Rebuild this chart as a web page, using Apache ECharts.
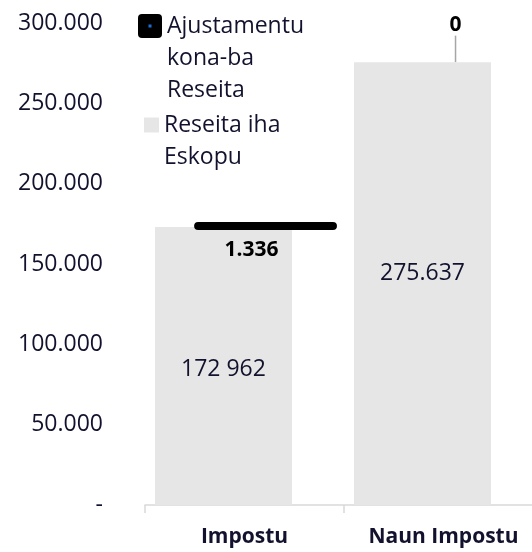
<!DOCTYPE html>
<html>
<head>
<meta charset="utf-8">
<script src="https://cdn.jsdelivr.net/npm/echarts@6/dist/echarts.min.js"></script>
<style>
html,body{margin:0;padding:0;background:#fff}
#main{width:532px;height:552px}
</style>
</head>
<body>
<div id="main"></div>
<script>
var categories = ['Impostu', 'Naun Impostu'];
var reseitaValues = [172962, 275637];
var reseitaLabels = ['172 962', '275.637'];
var ajustValues = [1336, 0];
var ajustLabels = ['1.336', '0'];

var txt = '#12122e';
var font = 'Open Sans';

var iconSvg = '<svg xmlns="http://www.w3.org/2000/svg" width="24" height="24">' +
	'<rect width="24" height="24" rx="4" ry="4" fill="#000"/>' +
	'<rect x="10.5" y="10.5" width="3" height="3" fill="#1f6fd1"/></svg>';
var ajustIcon = 'image://data:image/svg+xml;charset=utf-8,' + encodeURIComponent(iconSvg);

var myChart = echarts.init(document.getElementById('main'));

var option = {
	animation: false,
	textStyle: { fontFamily: font },
	grid: { left: 145, top: 23, width: 398, height: 482, containLabel: false, outerBoundsMode: 'none' },
	legend: [
		{
			left: 138, top: -54, padding: 0,
			itemWidth: 24, itemHeight: 24,
			data: [{ name: 'Ajustamentu kona-ba Reseita', icon: ajustIcon }],
			// leading blank lines keep the first line level with the icon
			formatter: function() { return '\n\nAjustamentu\nkona-ba\nReseita'; },
			textStyle: { fontFamily: font, fontSize: 23, color: txt, lineHeight: 32 }
		},
		{
			left: 144, top: 77, padding: 0,
			itemWidth: 15, itemHeight: 15,
			data: [{ name: 'Reseita iha Eskopu', icon: 'rect' }],
			formatter: function() { return '\nReseita iha\nEskopu'; },
			textStyle: { fontFamily: font, fontSize: 23, color: txt, lineHeight: 32 }
		}
	],
	xAxis: {
		type: 'category',
		data: categories,
		axisLine: { lineStyle: { color: '#d9d9d9', width: 1.5 } },
		axisTick: { show: true, length: 8, lineStyle: { color: '#d9d9d9', width: 1.5 } },
		axisLabel: { interval: 0, fontFamily: font, fontSize: 21, fontWeight: 'bold', color: txt, margin: 22 }
	},
	yAxis: {
		type: 'value',
		min: 0,
		max: 300000,
		interval: 50000,
		splitLine: { show: false },
		axisLine: { show: false },
		axisTick: { show: false },
		axisLabel: {
			fontFamily: font, fontSize: 23, color: txt, margin: 42,
			formatter: function(v) {
				if (v === 0) return '-';
				return String(v).replace(/\B(?=(\d{3})+(?!\d))/g, '.');
			}
		}
	},
	series: [
		{
			name: 'Reseita iha Eskopu',
			type: 'bar',
			barWidth: 137,
			barGap: '-69.3%',
			itemStyle: { color: '#e6e6e6' },
			label: {
				show: true,
				position: 'inside',
				fontFamily: font, fontSize: 23, color: txt,
				formatter: function(p) { return reseitaLabels[p.dataIndex]; }
			},
			data: [
				{ value: reseitaValues[0], label: { offset: [0, 3] } },
				{ value: reseitaValues[1], label: { offset: [0, -10] } }
			]
		},
		{
			name: 'base',
			type: 'bar',
			stack: 'adj',
			barWidth: 137,
			silent: true,
			itemStyle: { color: 'rgba(0,0,0,0)' },
			data: reseitaValues.slice()
		},
		{
			name: 'Ajustamentu kona-ba Reseita',
			type: 'bar',
			stack: 'adj',
			barWidth: 137,
			itemStyle: { color: '#000', borderColor: '#000', borderWidth: 8, borderJoin: 'round' },
			label: {
				show: true,
				position: 'inside',
				fontFamily: font, fontSize: 21, fontWeight: 'bold', color: '#000',
				formatter: function(p) { return ajustLabels[p.dataIndex]; }
			},
			labelLayout: function(p) {
				if (p.dataIndex === 0) return { dx: -14, dy: 24 };
				return { dx: -9, dy: -37 };
			},
			labelLine: { show: true, length2: 12, lineStyle: { color: '#a6a6a6', width: 1.5 } },
			data: [
				ajustValues[0],
				{ value: ajustValues[1], itemStyle: { borderWidth: 0 } }
			]
		}
	]
};

myChart.setOption(option);
</script>
</body>
</html>
